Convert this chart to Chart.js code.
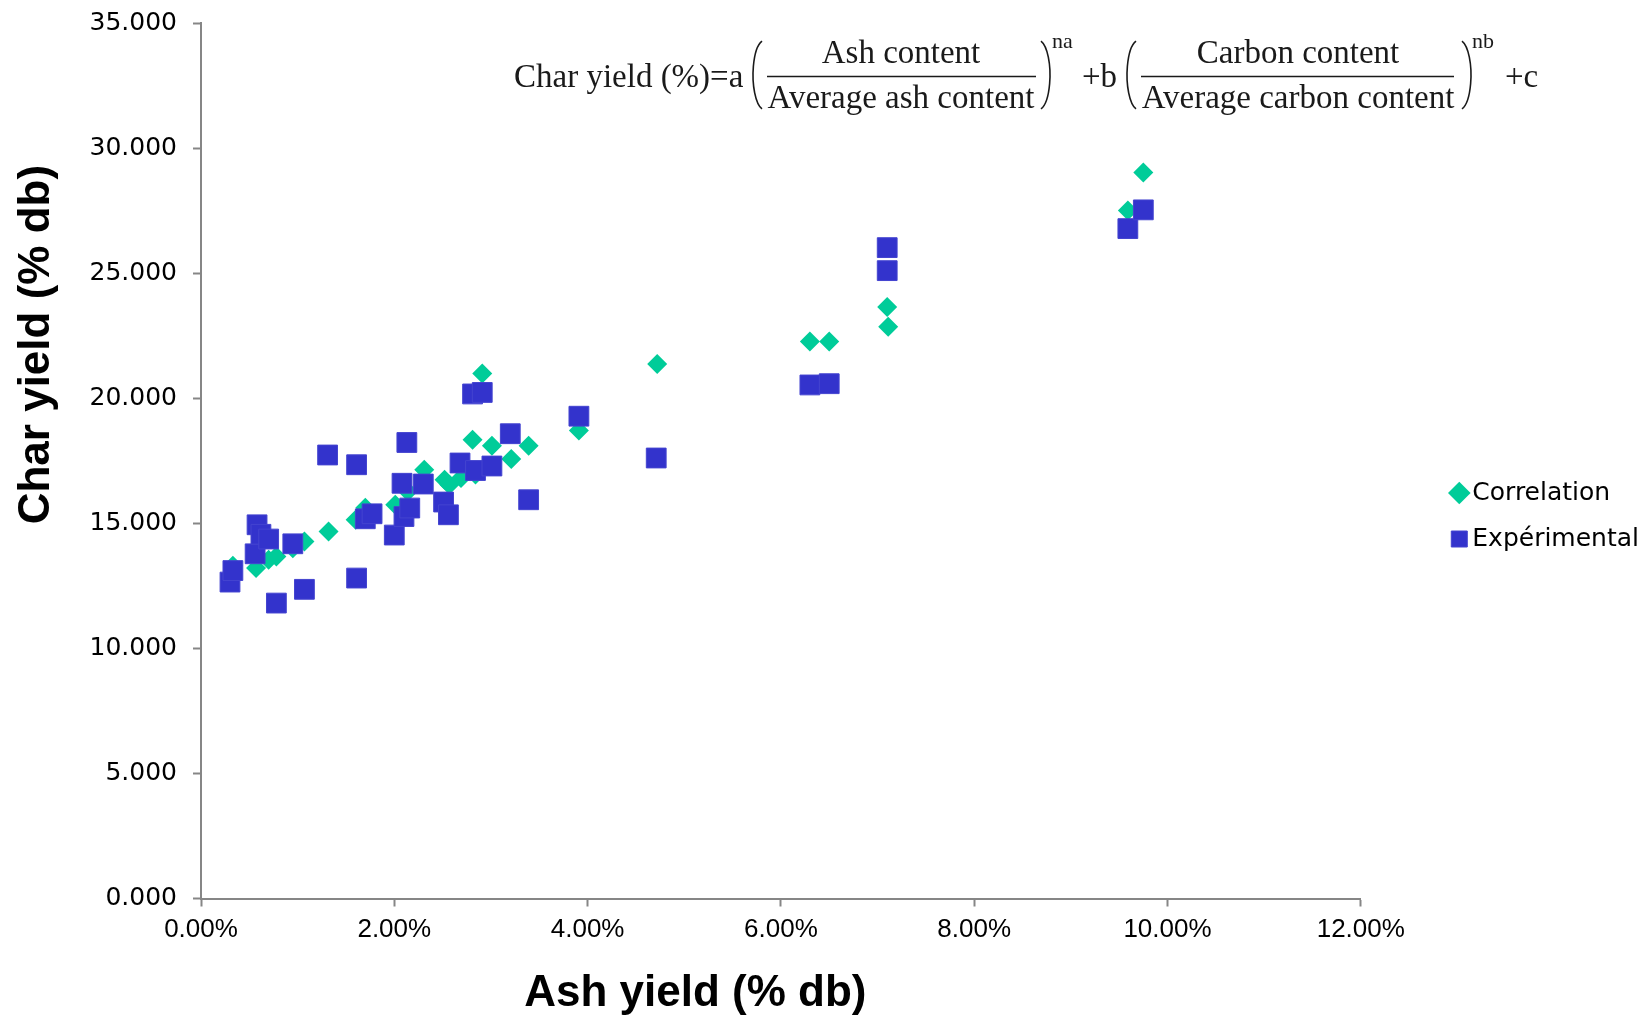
<!DOCTYPE html>
<html>
<head>
<meta charset="utf-8">
<title>Char yield vs Ash yield</title>
<style>
  body { margin: 0; background: #fff; }
  .chart-box { width: 1644px; height: 1021px; position: relative; }
</style>
</head>
<body>
<div class="chart-box"><canvas id="charChart"></canvas></div>

<script src="https://cdn.jsdelivr.net/npm/chart.js@4"></script>
<script>
// ash yield (% db) and char yield (% db)
const corrAsh  = [0.33, 0.57, 0.70, 0.78, 0.95, 1.07, 1.32, 1.60, 1.70, 2.01, 2.14, 2.31, 2.52, 2.57, 2.69, 2.84, 2.81, 2.91, 3.01, 3.21, 3.39, 3.91, 4.72, 6.30, 6.50, 7.10, 7.11, 9.59, 9.75];
const corrChar = [13.30, 13.21, 13.54, 13.67, 14.00, 14.27, 14.67, 15.14, 15.62, 15.74, 16.27, 17.14, 16.74, 16.54, 16.81, 16.95, 18.34, 20.99, 18.10, 17.57, 18.10, 18.71, 21.37, 22.27, 22.27, 23.65, 22.86, 27.50, 29.02];

const expAsh  = [0.30, 0.33, 0.56, 0.58, 0.62, 0.70, 0.78, 0.95, 1.07, 1.31, 1.61, 1.61, 1.70, 1.77, 2.00, 2.08, 2.10, 2.13, 2.16, 2.30, 2.51, 2.56, 2.68, 2.84, 2.81, 2.91, 3.01, 3.20, 3.39, 3.91, 4.71, 6.30, 6.50, 7.10, 7.10, 9.59, 9.75];
const expChar = [12.65, 13.11, 13.78, 14.94, 14.56, 14.37, 11.81, 14.18, 12.36, 17.73, 17.34, 12.81, 15.18, 15.38, 14.53, 16.60, 15.27, 18.23, 15.61, 16.57, 15.85, 15.34, 17.41, 17.11, 20.17, 20.23, 17.29, 18.58, 15.94, 19.28, 17.61, 20.53, 20.58, 26.02, 25.10, 26.78, 27.53];

const seriesNames = ['Correlation', 'Expérimental'];
const xRange = [0, 12, 2];   // min, max, step (%)
const yRange = [0, 35, 5];

const toPoints = (xs, ys) => xs.map((x, i) => ({ x: x, y: ys[i] }));

const axisGray = '#868686';
const titleFont = { family: '"Liberation Sans", Arial, sans-serif', size: 44, weight: 'bold', lineHeight: 1.2 };

// formula image of the original, drawn as text + a few strokes
function drawParen(ctx, x, top, bottom, left) {
    const cy = (top + bottom) / 2, ry = (bottom - top) / 2;
    ctx.beginPath();
    if (left) ctx.ellipse(x + 12, cy, 12, ry, 0, Math.PI * 0.58, Math.PI * 1.42);
    else ctx.ellipse(x - 12, cy, 12, ry, 0, -Math.PI * 0.42, Math.PI * 0.42);
    ctx.stroke();
}

const formulaPlugin = {
    id: 'formula',
    afterDraw(chart) {
        const ctx = chart.ctx;
        ctx.save();
        ctx.fillStyle = '#1a1a1a';
        ctx.strokeStyle = '#1a1a1a';
        ctx.lineWidth = 1.6;
        ctx.font = '33px "Liberation Serif", "DejaVu Serif", serif';
        ctx.textBaseline = 'alphabetic';
        ctx.textAlign = 'left';
        ctx.fillText('Char yield (%)=a', 514, 87);
        ctx.fillText('+b', 1082, 87);
        ctx.fillText('+c', 1505, 87);

        ctx.textAlign = 'center';
        ctx.fillText('Ash content', 901, 63);
        ctx.fillText('Average ash content', 901, 108);
        ctx.fillText('Carbon content', 1298, 63);
        ctx.fillText('Average carbon content', 1298, 108);

        ctx.beginPath();
        ctx.moveTo(767, 76.5); ctx.lineTo(1036, 76.5);
        ctx.moveTo(1141, 76.5); ctx.lineTo(1454, 76.5);
        ctx.stroke();

        drawParen(ctx, 753, 40, 110, true);
        drawParen(ctx, 1050, 40, 110, false);
        drawParen(ctx, 1127, 40, 110, true);
        drawParen(ctx, 1471, 40, 110, false);

        ctx.textAlign = 'left';
        ctx.font = '22px "Liberation Serif", "DejaVu Serif", serif';
        ctx.fillText('na', 1052, 48);
        ctx.fillText('nb', 1472, 48);
        ctx.restore();
    }
};

new Chart(document.getElementById('charChart'), {
    type: 'scatter',
    data: {
        datasets: [
            {
                label: seriesNames[0],
                data: toPoints(corrAsh, corrChar),
                pointStyle: 'rectRot',
                pointRadius: 10,
                pointHoverRadius: 11,
                backgroundColor: '#00CC99',
                borderColor: '#00CC99',
                borderWidth: 0,
                order: 2
            },
            {
                label: seriesNames[1],
                data: toPoints(expAsh, expChar),
                pointStyle: 'rect',
                pointRadius: 14,
                pointHoverRadius: 15,
                backgroundColor: '#3333CC',
                borderColor: '#4444D0',
                borderWidth: 1,
                order: 1
            }
        ]
    },
    options: {
        responsive: true,
        maintainAspectRatio: false,
        animation: false,
        layout: { padding: { top: 11, left: 0, right: -5, bottom: 0 } },
        plugins: {
            legend: {
                position: 'right',
                labels: {
                    usePointStyle: true,
                    boxWidth: 1,
                    boxHeight: 16,
                    padding: 21,
                    color: '#000',
                    font: { family: '"DejaVu Sans", Verdana, sans-serif', size: 25 },
                    sort: (a, b) => a.datasetIndex - b.datasetIndex
                }
            }
        },
        scales: {
            x: {
                type: 'linear',
                min: xRange[0],
                max: xRange[1],
                afterFit: s => { s.height = 122.5; },
                ticks: {
                    stepSize: xRange[2],
                    padding: 8,
                    color: '#000',
                    font: { family: '"Liberation Sans", Arial, sans-serif', size: 26 },
                    callback: v => v.toFixed(2) + '%'
                },
                grid: { drawOnChartArea: false, drawTicks: true, tickLength: 8, tickWidth: 2, tickColor: axisGray },
                border: { color: axisGray, width: 2 },
                title: {
                    display: true,
                    text: 'Ash yield (% db)' + ' '.repeat(14),
                    color: '#000',
                    font: titleFont,
                    padding: { top: 0, bottom: 1 }
                }
            },
            y: {
                type: 'linear',
                min: yRange[0],
                max: yRange[1],
                afterFit: s => {
                    s.width = 201;
                    // the top label may stick out above the plot, like the original
                    s.paddingTop = 10;
                    s.paddingBottom = 10;
                },
                ticks: {
                    stepSize: yRange[2],
                    padding: 16,
                    color: '#000',
                    font: { family: '"DejaVu Sans", Verdana, sans-serif', size: 25 },
                    callback: v => v.toFixed(3)
                },
                grid: { drawOnChartArea: false, drawTicks: true, tickLength: 8, tickWidth: 2, tickColor: axisGray },
                border: { color: axisGray, width: 2 },
                title: {
                    display: true,
                    text: ' '.repeat(19) + 'Char yield (% db)',
                    color: '#000',
                    font: titleFont,
                    padding: { top: 10, bottom: 0 }
                }
            },
            // empty room between plot and legend, and above the plot
            gapRight: {
                type: 'linear',
                position: 'right',
                display: false,
                afterFit: s => { s.width = 77; }
            },
            gapTop: {
                type: 'linear',
                position: 'top',
                display: false,
                afterFit: s => { s.height = 12; }
            }
        }
    },
    plugins: [formulaPlugin]
});
</script>
</body>
</html>
